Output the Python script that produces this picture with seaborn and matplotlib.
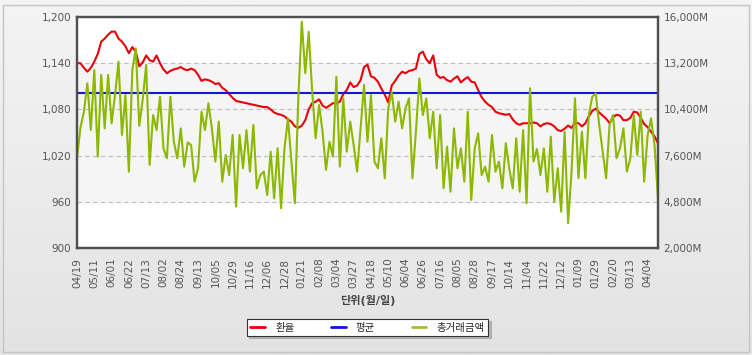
import numpy as np
import matplotlib
matplotlib.use("Agg")
import matplotlib.pyplot as plt
import seaborn as sns
from matplotlib.lines import Line2D
from matplotlib.patches import Rectangle
from matplotlib.colors import LinearSegmentedColormap

# tick labels (one every 5 points)
date_labels = ['04/19', '05/11', '06/01', '06/22', '07/13', '08/02', '08/24', '09/13',
               '10/05', '10/29', '11/16', '12/06', '12/28', '01/21', '02/08', '03/04',
               '03/27', '04/18', '05/10', '06/04', '06/26', '07/16', '08/05', '08/28',
               '09/17', '10/14', '11/04', '11/22', '12/12', '01/09', '01/29', '02/20',
               '03/13', '04/04']

# 환율 (left axis)
rate = [1140, 1140, 1134, 1129, 1134, 1142, 1152, 1168, 1172, 1177,
        1181, 1181, 1172, 1168, 1162, 1153, 1161, 1155, 1136, 1141,
        1150, 1144, 1142, 1150, 1140, 1132, 1127, 1130, 1132, 1133,
        1135, 1132, 1131, 1133, 1131, 1125, 1117, 1119, 1118, 1116,
        1113, 1114, 1108, 1105, 1100, 1095, 1091, 1090, 1089, 1088,
        1087, 1086, 1085, 1084, 1083, 1083, 1080, 1076, 1074, 1073,
        1071, 1067, 1064, 1058, 1056, 1059, 1066, 1080, 1088, 1090,
        1093, 1085, 1082, 1085, 1088, 1088, 1090, 1100, 1105, 1115,
        1109, 1111, 1118, 1135, 1138, 1123, 1121, 1116, 1107, 1099,
        1089, 1111, 1117, 1124, 1129, 1127, 1130, 1131, 1133, 1152,
        1155, 1145, 1140, 1150, 1125, 1121, 1122, 1118, 1116, 1120,
        1123, 1115, 1119, 1122, 1116, 1115, 1105, 1096, 1090, 1086,
        1083, 1077, 1075, 1074, 1073, 1074, 1067, 1062, 1060, 1062,
        1062, 1062, 1063, 1062, 1058, 1061, 1062, 1061, 1058, 1053,
        1052, 1055, 1059, 1056, 1063, 1062, 1058, 1062, 1071, 1078,
        1081, 1076, 1072, 1068, 1062, 1070, 1073, 1072, 1066, 1066,
        1069, 1077, 1076, 1069, 1061, 1057, 1051, 1045, 1036]

# 평균
avg_rate = 1101

# 총거래금액 (right axis, 백만)
volume = [7440, 9300, 10260, 11980, 9150, 12790, 7540, 12490, 9250, 12490,
          9550, 11270, 13290, 8850, 11270, 6630, 12790, 14100, 9400, 11000,
          13090, 7030, 10060, 9150, 11170, 8040, 7440, 11170, 8440, 7440,
          9250, 6930, 8400, 8240, 6020,
          6830, 10260, 9150, 10770, 9250, 7240, 9660, 6020, 7640, 6420,
          8850, 4510, 8850, 6830, 9150, 6630, 9460, 5620, 6420, 6630,
          5210, 7840, 5010, 8040, 4410, 8040, 9860, 7240, 4710, 11070,
          15720, 12600, 15100, 11500,
          8650, 10670, 9050, 6730, 8440, 7540, 12380, 6930, 11070, 7840,
          9660, 8240, 6630, 9250, 11880, 8440, 11270, 7240, 6830, 8650,
          6230, 10470, 11470, 9660, 10870, 9250, 10470, 11070, 6230, 9050,
          12280, 10060, 11070, 8650,
          10260, 6830, 10060, 5620, 8140, 5410, 9250, 6830, 8040, 6020,
          10260, 4910, 8040, 8950, 6420, 6930, 6020, 8850, 6630, 7240,
          5620, 8350, 6800, 5620, 8650, 5410, 9150, 4710, 11680, 7240,
          8000, 6420, 8040, 5410,
          8750, 4810, 6830, 4200, 9050, 3500, 6630, 11070, 6230, 9050,
          6230, 10060, 11170, 11370, 9460, 7840, 6230, 9460, 10060, 7440,
          8040, 9250, 6630, 7440, 10060, 7640, 10260, 6020, 8850, 9860,
          8240, 5010]

left_ticks = [900, 960, 1020, 1080, 1140, 1200]
right_ticks = [2000, 4800, 7600, 10400, 13200, 16000]
series_names = ['환율', '평균', '총거래금액']

sns.set_style("white")
plt.rcParams['font.family'] = ['DejaVu Sans', 'Noto Sans CJK KR']

W, H = 752, 355
fig = plt.figure(figsize=(W / 100, H / 100), dpi=100)

# soft gray background
bg = fig.add_axes([0, 0, 1, 1], zorder=-10)
grad = np.linspace(0, 1, 256).reshape(-1, 1)
bg.imshow(grad, aspect='auto', extent=[0, 1, 0, 1],
          cmap=LinearSegmentedColormap.from_list('bg', ['#f4f4f4', '#e3e3e3']))
bg.axis('off')
fig.patches.append(Rectangle((2.5 / W, 3.5 / H), 746 / W, 347 / H, transform=fig.transFigure,
                             fill=False, edgecolor='#c4c4c4', lw=1))

ax = fig.add_axes([77 / W, 1 - 248 / H, 581 / W, 231 / H])
ax.set_facecolor('white')
ax.axhspan(960, 1140, color='#f5f5f5', zorder=0)
for y in left_ticks[1:-1]:
    ax.axhline(y, color='#bdbdbd', lw=0.8, ls=(0, (4, 3)), zorder=1)

idx = np.arange(len(rate))
sns.lineplot(x=idx, y=rate, ax=ax, color='#e8000b', lw=1.5, zorder=3)
ax.axhline(avg_rate, color='#1414dc', lw=1.5, zorder=3)

ax.set_xlim(0, len(rate) - 1)
ax.set_ylim(900, 1200)
ax.set_yticks(left_ticks)
ax.set_yticklabels([f'{v:,}' for v in left_ticks])
ax.set_xticks(idx[::5])
ax.set_xticklabels(date_labels, rotation=90)
ax.tick_params(axis='y', length=0, labelsize=7.5, colors='#555555', pad=4)
ax.tick_params(axis='x', length=0, labelsize=7.5, colors='#555555', pad=7)
ax.set_xlabel('단위(월/일)', fontsize=8, fontweight='bold', color='#444444', labelpad=5)
ax.set_ylabel('')

ax2 = ax.twinx()
sns.lineplot(x=idx, y=volume, ax=ax2, color='#8cb800', lw=1.5)
ax2.set_ylim(2000, 16000)
ax2.set_yticks(right_ticks)
ax2.set_yticklabels([f'{v:,}M' for v in right_ticks])
ax2.tick_params(axis='y', length=0, labelsize=7.5, colors='#555555', pad=4)
ax2.set_ylabel('')

for a in (ax, ax2):
    for s in a.spines.values():
        s.set_visible(True)
        s.set_color('#505050')
        s.set_linewidth(1.6)

handles = [Line2D([0], [0], color=c, lw=2) for c in ('#e8000b', '#1414dc', '#a8b840')]
leg = fig.legend(handles, series_names, loc='center', bbox_to_anchor=(367.5 / W, 1 - 327.5 / H),
                 ncol=3, fontsize=7.5, frameon=True, fancybox=False,
                 shadow={'ox': 1.5, 'oy': -1.5, 'color': '#999999', 'alpha': 0.6},
                 edgecolor='#333333', columnspacing=3.5, handlelength=1.4,
                 handletextpad=1.0, borderpad=0.35)
leg.get_frame().set_linewidth(0.8)

fig.savefig('out.png', dpi=100)
